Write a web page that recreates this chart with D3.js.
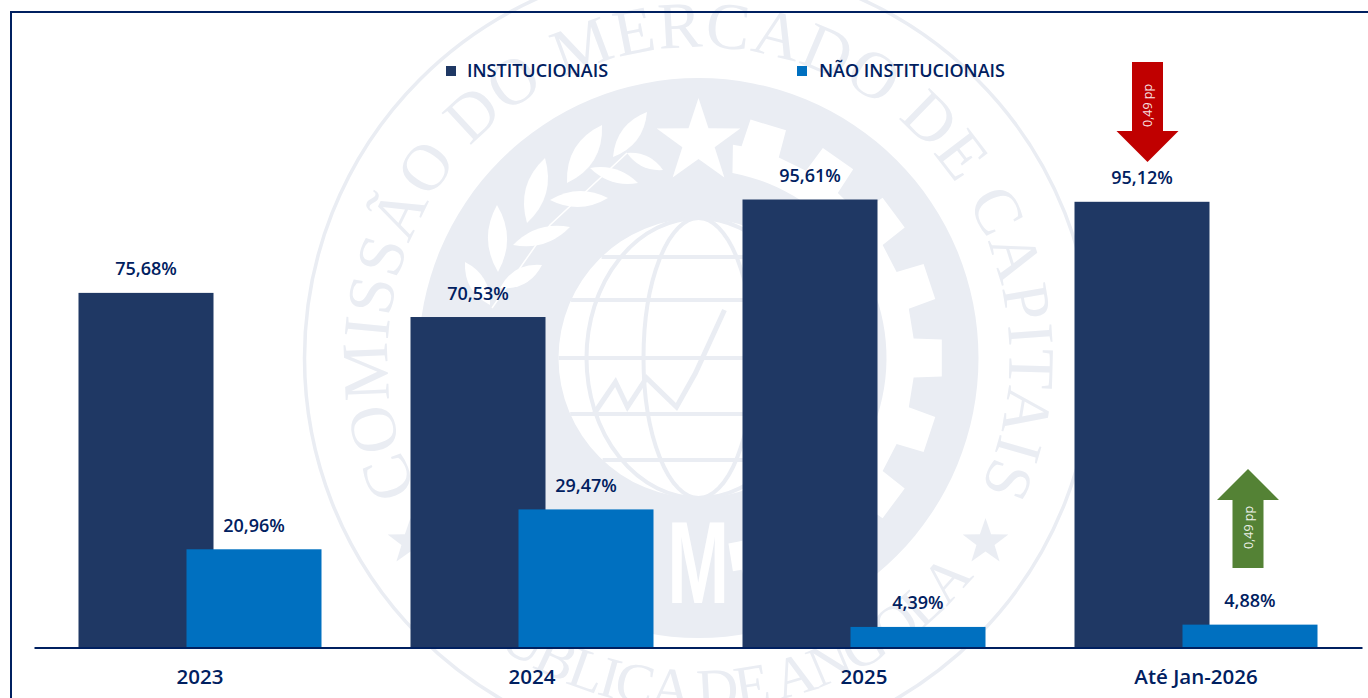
<!DOCTYPE html>
<html><head><meta charset="utf-8">
<script src="https://cdnjs.cloudflare.com/ajax/libs/d3/7.8.5/d3.min.js"></script>
<style>html,body{margin:0;padding:0;background:#fff}svg{display:block}</style>
</head><body><svg id="c" width="1368" height="698"></svg>
<script>
const categories = ["2023","2024","2025","Até Jan-2026"];
const seriesNames = ["INSTITUCIONAIS","NÃO INSTITUCIONAIS"];
const institucionais = [75.68,70.53,95.61,95.12];
const naoInstitucionais = [20.96,29.47,4.39,4.88];
const changes = ["0,49 pp","0,49 pp"];

const svg = d3.select("#c");
const base=647.5;
const navy="#002060", dark="#1F3864", blue="#0070C0", red="#C00000", green="#548235", wm="#EAEDF3";
const font="'Open Sans',sans-serif";
const x0=d3.scaleBand().domain(categories).range([34,1362]);
const x1=d3.scalePoint().domain(seriesNames).range([-54,54]);
const y=d3.scaleLinear().domain([0,95.61]).range([base,199.5]);
const barW=135;

// ---------- watermark seal (decorative background) ----------
const CX=698.5, CY=358;
const wg=svg.append("g").attr("transform",`translate(${CX},${CY})`);
const rl=d3.lineRadial().angle(d=>d[0]).radius(d=>d[1]);
wg.append("circle").attr("r",394).attr("fill","none").attr("stroke",wm).attr("stroke-width",3.5);
wg.append("path").attr("fill",wm).attr("d",d3.arc()({innerRadius:140,outerRadius:280,startAngle:0,endAngle:2*Math.PI}));
// white gear on the right of the band
const gear=[[0.16,216]];
d3.range(-4,5).forEach(k=>{
  const c=Math.PI/2+k*0.32;
  gear.push([c-0.09,216],[c-0.076,244],[c+0.076,244],[c+0.09,216]);
});
gear.push([Math.PI-0.16,216]);
d3.range(Math.PI-0.16,0.15,-0.05).forEach(a=>gear.push([a,188]));
wg.append("path").attr("fill","#fff").attr("d",rl(gear)+"Z");
// laurel branch
const leafPts=[[613,157,647,112,11],[567,183,602,125,14],[527,223,545,158,13],[498,272,497,205,12],[490,305,465,262,10],
  [627,153,663,170,7],[590,168,638,183,8],[550,200,608,198,10],[513,245,570,227,10],[500,288,542,265,10]];
const leafG=svg.append("g").attr("fill","#fff");
leafPts.forEach(([a,b,c,d,w])=>{
  const mx=(a+c)/2,my=(b+d)/2,dx=c-a,dy=d-b,l=Math.hypot(dx,dy),nx=-dy/l*w*1.6,ny=dx/l*w*1.6;
  leafG.append("path").attr("d",`M${a},${b}Q${mx+nx},${my+ny} ${c},${d}Q${mx-nx},${my-ny} ${a},${b}Z`);
});
svg.append("path").attr("fill","none").attr("stroke","#fff").attr("stroke-width",1.5).attr("d",d3.line()([[492,308],[550,225],[627,153]]));
// star
const star=d3.range(10).map(i=>[i*Math.PI/5,i%2?17:44]);
wg.append("path").attr("fill","#fff").attr("transform","translate(0,-216)").attr("d",rl(star)+"Z");
// globe
const gl=wg.append("g").attr("fill","none").attr("stroke",wm).attr("stroke-width",4);
[-101,-58,0,56,102].forEach(dy=>{
  const hw=Math.sqrt(140*140-dy*dy);
  gl.append("line").attr("x1",-hw).attr("x2",hw).attr("y1",dy).attr("y2",dy);
});
[0,55,112].forEach(rx=>gl.append("ellipse").attr("rx",rx).attr("ry",140));
gl.append("path").attr("stroke-width",5).attr("d",d3.line()([[-104,55],[-83,24],[-71,49],[-52,20],[-22,49],[-3,15],[26,-48]]));
// CMC letters
wg.append("text").text("CMC").attr("transform","translate(6,245) scale(.64,1)").attr("text-anchor","middle").attr("letter-spacing",20)
  .attr("font-family","'Liberation Sans'").attr("font-size",116).attr("font-weight",700).attr("fill","#fff");
// ring text
const defs=svg.append("defs");
defs.append("path").attr("id","top").attr("d","M-255,178A311,311 0 1 1 255,178");
defs.append("path").attr("id","bot").attr("d","M-300,183A352,352 0 0 0 300,183");
wg.append("text").attr("font-family","'Liberation Serif'").attr("font-size",66).attr("letter-spacing",1.2).attr("fill",wm)
  .append("textPath").attr("href","#top").attr("startOffset","50%").attr("text-anchor","middle").text("COMISSÃO DO MERCADO DE CAPITAIS");
wg.append("text").attr("font-family","'Liberation Serif'").attr("font-size",58).attr("letter-spacing",-2).attr("fill",wm)
  .append("textPath").attr("href","#bot").attr("startOffset","50%").attr("text-anchor","middle").text("REPÚBLICA DE ANGOLA");
[[-288,184],[287,184]].forEach(p=>{
  const s=d3.range(10).map(i=>[i*Math.PI/5,i%2?9.5:24]);
  wg.append("path").attr("fill",wm).attr("transform",`translate(${p[0]},${p[1]})`).attr("d",rl(s)+"Z");
});

// ---------- frame ----------
svg.append("path").attr("d","M11,698V12H1368").attr("fill","none").attr("stroke",navy).attr("stroke-width",2);

// ---------- bars ----------
const series=[[seriesNames[0],institucionais,dark],[seriesNames[1],naoInstitucionais,blue]];
const labels=[];
series.forEach(([name,vals,col])=>{
  const cx=i=>x0(categories[i])+x0.bandwidth()/2+x1(name);
  svg.append("g").selectAll("rect").data(vals).join("rect")
    .attr("x",(d,i)=>cx(i)-barW/2).attr("width",barW)
    .attr("y",d=>y(d)).attr("height",d=>base-y(d)).attr("fill",col);
  vals.forEach((d,i)=>labels.push({x:cx(i),y:y(d)-17.5,t:d.toFixed(2).replace(".",",")+"%"}));
});
svg.append("g").selectAll("text").data(labels).join("text")
  .attr("x",d=>d.x).attr("y",d=>d.y).attr("text-anchor","middle").text(d=>d.t)
  .attr("font-family",font).attr("font-size",18).attr("font-weight",600).attr("fill",navy);

// ---------- axis ----------
const ax=svg.append("g").attr("transform",`translate(0,${base})`).call(d3.axisBottom(x0).tickSize(0).tickPadding(22));
ax.select(".domain").attr("stroke",navy).attr("stroke-width",2);
ax.selectAll("text").attr("font-family",font).attr("font-size",20.5).attr("font-weight",600).attr("fill",navy);

// ---------- legend ----------
const legend=svg.append("g");
[[446,467],[797,819]].forEach((p,i)=>{
  legend.append("rect").attr("x",p[0]).attr("y",66).attr("width",10).attr("height",10).attr("fill",series[i][2]);
  legend.append("text").attr("x",p[1]).attr("y",76.5).text(seriesNames[i])
    .attr("font-family",font).attr("font-size",18).attr("font-weight",600).attr("fill",navy);
});

// ---------- arrows ----------
function arrow(cx,tip,s,len,textY,col,label){
  const g=svg.append("g").attr("transform",`translate(${cx},${tip})`);
  g.append("path").attr("fill",col).attr("d",d3.line()([[0,0],[31,31*s],[15.5,31*s],[15.5,len*s],[-15.5,len*s],[-15.5,31*s],[-31,31*s]])+"Z");
  g.append("text").attr("transform",`translate(4.5,${textY-tip}) rotate(-90)`).attr("text-anchor","middle")
    .text(label).attr("font-family",font).attr("font-size",12.5).attr("fill","#fff").attr("fill-opacity",.9);
}
arrow(1147.5,162,-1,100,105.5,red,changes[0]);
arrow(1248,469,1,99,527.5,green,changes[1]);
</script></body></html>
